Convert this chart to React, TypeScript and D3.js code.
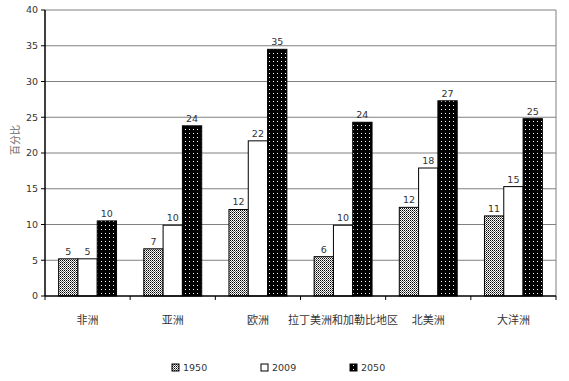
import React from "react";
import * as d3 from "d3";

const categories = ["非洲", "亚洲", "欧洲", "拉丁美洲和加勒比地区", "北美洲", "大洋洲"];
const years = ["1950", "2009", "2050"];
const values1950 = [5.2, 6.6, 12.1, 5.5, 12.4, 11.2];
const values2009 = [5.2, 9.9, 21.7, 9.9, 17.9, 15.3];
const values2050 = [10.5, 23.8, 34.5, 24.3, 27.3, 24.8];
const labels1950 = ["5", "7", "12", "6", "12", "11"];
const labels2009 = ["5", "10", "22", "10", "18", "15"];
const labels2050 = ["10", "24", "35", "24", "27", "25"];
const yTicks = [0, 5, 10, 15, 20, 25, 30, 35, 40];

const W = 569;
const H = 381;
const L = 45;
const R = 556;
const T = 10;
const B = 296;

export default function App() {
  const x = d3.scaleBand<string>().domain(categories).range([L, R]).paddingInner(0).paddingOuter(0);
  const y = d3.scaleLinear().domain([0, 40]).range([B, T]);
  const bw = x.bandwidth();
  const groupW = bw * 0.68;
  const sub = d3.scaleBand<string>().domain(years).range([0, groupW]);
  const series = [values1950, values2009, values2050];
  const labels = [labels1950, labels2009, labels2050];
  const fills = ["url(#checker)", "#ffffff", "url(#dots)"];
  const font = "'Noto Sans CJK SC', 'DejaVu Sans', sans-serif";
  const numFont = "'DejaVu Sans', sans-serif";

  return (
    <svg width={W} height={H} style={{ position: "absolute", left: 0, top: 0, background: "#fff" }} fontFamily={font}>
      <defs>
        <pattern id="checker" width="2" height="2" patternUnits="userSpaceOnUse">
          <rect width="2" height="2" fill="#fff" />
          <rect width="1" height="1" fill="#000" />
          <rect x="1" y="1" width="1" height="1" fill="#666" />
        </pattern>
        <pattern id="dots" width="4" height="4" patternUnits="userSpaceOnUse">
          <rect width="4" height="4" fill="#000" />
          <rect x="1" y="1" width="1" height="1" fill="#fff" />
        </pattern>
      </defs>
      <rect width={W} height={H} fill="#fff" />
      {yTicks.map((t) => (
        <g key={t}>
          {t > 0 && <line x1={L} x2={R} y1={y(t)} y2={y(t)} stroke="#808080" strokeWidth={1} />}
          <line x1={L - 4} x2={L} y1={y(t)} y2={y(t)} stroke="#000" />
          <text x={L - 7} y={y(t)} dy="0.35em" textAnchor="end" fontSize={9.5} fill="#333" fontFamily={numFont}>
            {t}
          </text>
        </g>
      ))}
      <line x1={R} x2={R} y1={T} y2={B} stroke="#808080" />
      <text transform={`translate(15,${140}) rotate(-90)`} textAnchor="middle" fontSize={10} fill="#666" dy="0.35em">
        百分比
      </text>
      {categories.map((c, ci) => {
        const gx = (x(c) as number) + (bw - groupW) / 2;
        return (
          <g key={c}>
            {series.map((s, si) => {
              const bx = gx + (sub(years[si]) as number);
              const by = y(s[ci]);
              return (
                <g key={si}>
                  <rect x={bx} y={by} width={sub.bandwidth()} height={B - by} fill={fills[si]} stroke="#000" strokeWidth={1} />
                  <text x={bx + sub.bandwidth() / 2} y={by - 4} textAnchor="middle" fontSize={9.5} fill="#333" fontFamily={numFont}>
                    {labels[si][ci]}
                  </text>
                </g>
              );
            })}
            <text x={(x(c) as number) + bw / 2} y={324} textAnchor="middle" fontSize={11} fill="#333">
              {c}
            </text>
          </g>
        );
      })}
      <line x1={L} x2={R} y1={B} y2={B} stroke="#000" strokeWidth={1.5} />
      <line x1={L} x2={L} y1={T} y2={B} stroke="#000" strokeWidth={1.5} />
      {categories.concat(["end"]).map((c, i) => (
        <line key={i} x1={L + i * bw} x2={L + i * bw} y1={B} y2={B + 4} stroke="#000" />
      ))}
      {years.map((yr, i) => {
        const lx = 172 + i * 89;
        return (
          <g key={yr}>
            <rect x={lx} y={364} width={7} height={7} fill={fills[i]} stroke="#000" />
            <text x={lx + 11} y={371} fontSize={9.5} fill="#333" fontFamily={numFont}>
              {yr}
            </text>
          </g>
        );
      })}
    </svg>
  );
}
